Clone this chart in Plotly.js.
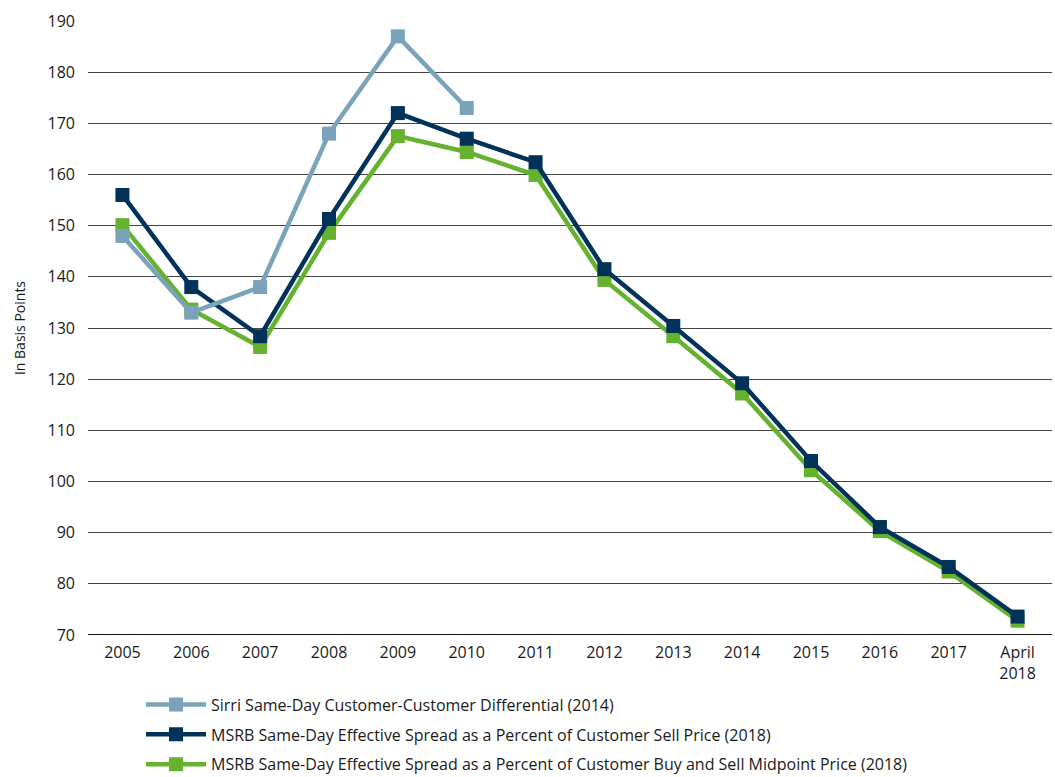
<!DOCTYPE html>
<html><head><meta charset="utf-8">
<script src="https://cdn.plot.ly/plotly-3.0.1.min.js"></script>
<style>html,body{margin:0;padding:0;background:#fff}#chart{width:1055px;height:777px}</style>
</head><body><div id="chart"></div>
<script>
var categories = ["2005","2006","2007","2008","2009","2010","2011","2012","2013","2014","2015","2016","2017","April<br>2018"];
var sirri = [148, 133, 138, 168, 187, 173, null, null, null, null, null, null, null, null];
var msrbSell = [156, 138, 128.4, 151.3, 172, 167, 162.4, 141.5, 130.4, 119.2, 104, 91.1, 83.3, 73.6];
var msrbMid = [150.1, 133.6, 126.3, 148.6, 167.5, 164.4, 159.9, 139.4, 128.4, 117.2, 102.2, 90.3, 82.4, 72.8];
var names = ["Sirri Same-Day Customer-Customer Differential (2014)",
  "MSRB Same-Day Effective Spread as a Percent of Customer Sell Price (2018)",
  "MSRB Same-Day Effective Spread as a Percent of Customer Buy and Sell Midpoint Price (2018)"];
var colors = ["#7aa3bb", "#00325a", "#64b22e"];
var fontFam = "'Open Sans', 'Noto Sans', sans-serif";
function tr(y, i){
  return {x: categories, y: y, name: names[i], type: "scatter", mode: "lines+markers",
    legendgroup: "g" + i, legendrank: i + 1,
    line: {color: colors[i], width: 4.5}, marker: {symbol: "square", size: 14, color: colors[i]},
    connectgaps: false};
}
var data = [tr(msrbMid, 2), tr(msrbSell, 1), tr(sirri, 0)];
var layout = {
  width: 1055, height: 777,
  margin: {l: 88, r: 3, t: 21, b: 142},
  paper_bgcolor: "#fff", plot_bgcolor: "#fff",
  font: {family: fontFam, size: 16, color: "#1a1a1a"},
  showlegend: true,
  legend: {orientation: "v", traceorder: "grouped", x: 0.055, xanchor: "left",
    yref: "container", y: 0.115, yanchor: "top",
    font: {family: fontFam, size: 16, color: "#1a1a1a"}, tracegroupgap: 6, itemwidth: 60},
  xaxis: {type: "category", range: [-0.5, 13.5], showgrid: false, zeroline: false, showline: false, ticks: "",
    ticklabelstandoff: 6,
    tickfont: {family: fontFam, size: 16, color: "#1a1a1a"}},
  yaxis: {range: [70, 190], dtick: 10, showgrid: true, gridcolor: "#444", gridwidth: 1,
    zeroline: false, showline: false, ticks: "", ticklabelstandoff: 12,
    tickfont: {family: fontFam, size: 16, color: "#1a1a1a"},
    title: {text: "In Basis Points", font: {family: fontFam, size: 14, color: "#1a1a1a"}, standoff: 18}},
  shapes: [{type: "line", xref: "paper", yref: "y", x0: 0, x1: 1, y0: 70, y1: 70, line: {color: "#111", width: 2}}]
};
Plotly.newPlot("chart", data, layout, {displayModeBar: false});
</script></body></html>
